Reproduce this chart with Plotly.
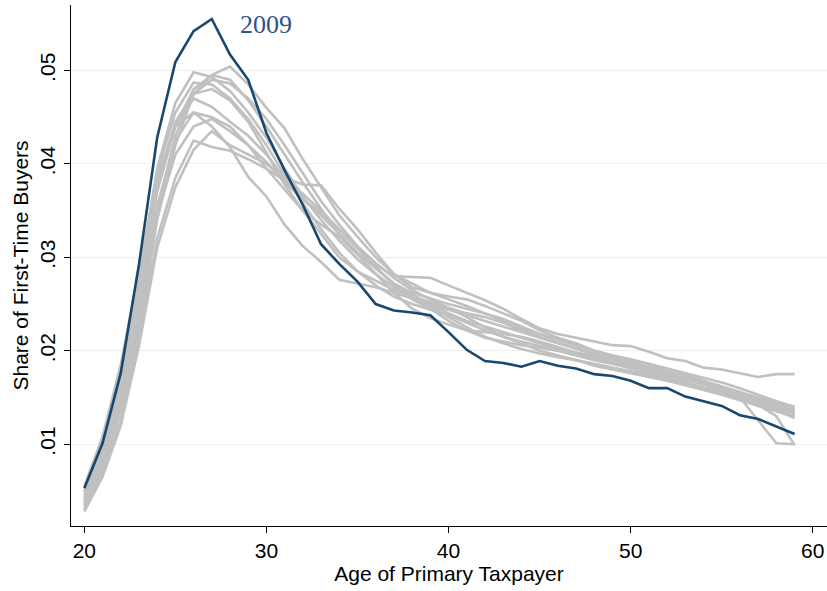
import plotly.graph_objects as go

ages = list(range(20, 60))

# Highlighted year
year_2009 = [0.0053, 0.0101, 0.0176, 0.0292, 0.0428, 0.0509, 0.0542, 0.0555, 0.0517, 0.0490,
             0.0433, 0.0393, 0.0356, 0.0314, 0.0293, 0.0274, 0.0250, 0.0243, 0.0241, 0.0238,
             0.0220, 0.0201, 0.0189, 0.0187, 0.0183, 0.0189, 0.0184, 0.0181, 0.0175, 0.0173,
             0.0168, 0.0160, 0.0160, 0.0151, 0.0146, 0.0141, 0.0131, 0.0127, 0.0119, 0.0111]

# Other years (grey)
other_a = [0.0035, 0.0075, 0.0135, 0.0220, 0.0340, 0.0420, 0.0475, 0.0495, 0.0504, 0.0485,
           0.0460, 0.0438, 0.0405, 0.0375, 0.0345, 0.0322, 0.0300, 0.0282, 0.0272, 0.0262,
           0.0255, 0.0248, 0.0240, 0.0232, 0.0224, 0.0218, 0.0212, 0.0206, 0.0200, 0.0195,
           0.0190, 0.0185, 0.0178, 0.0172, 0.0166, 0.0160, 0.0154, 0.0148, 0.0142, 0.0137]
other_b = [0.0030, 0.0068, 0.0125, 0.0215, 0.0320, 0.0385, 0.0425, 0.0418, 0.0414, 0.0405,
           0.0395, 0.0382, 0.0368, 0.0350, 0.0330, 0.0310, 0.0292, 0.0280, 0.0279, 0.0278,
           0.0270, 0.0262, 0.0254, 0.0245, 0.0234, 0.0224, 0.0218, 0.0214, 0.0210, 0.0206,
           0.0205, 0.0199, 0.0192, 0.0189, 0.0182, 0.0180, 0.0176, 0.0172, 0.0175, 0.0175]
other_c = [0.0028, 0.0065, 0.0120, 0.0205, 0.0310, 0.0375, 0.0415, 0.0435, 0.0420, 0.0410,
           0.0400, 0.0385, 0.0378, 0.0377, 0.0352, 0.0330, 0.0305, 0.0282, 0.0268, 0.0262,
           0.0258, 0.0255, 0.0248, 0.0240, 0.0232, 0.0222, 0.0214, 0.0208, 0.0200, 0.0194,
           0.0188, 0.0182, 0.0178, 0.0174, 0.0168, 0.0162, 0.0156, 0.0150, 0.0144, 0.0139]
other_d = [0.0045, 0.0095, 0.0170, 0.0275, 0.0395, 0.0465, 0.0498, 0.0493, 0.0478, 0.0455,
           0.0428, 0.0395, 0.0365, 0.0340, 0.0318, 0.0298, 0.0282, 0.0268, 0.0258, 0.0250,
           0.0240, 0.0232, 0.0226, 0.0220, 0.0214, 0.0208, 0.0202, 0.0196, 0.0192, 0.0188,
           0.0184, 0.0178, 0.0172, 0.0166, 0.0160, 0.0155, 0.0150, 0.0142, 0.0135, 0.0130]
other_e = [0.0038, 0.0082, 0.0150, 0.0250, 0.0370, 0.0440, 0.0480, 0.0495, 0.0490, 0.0468,
           0.0440, 0.0410, 0.0380, 0.0352, 0.0325, 0.0305, 0.0288, 0.0272, 0.0260, 0.0250,
           0.0244, 0.0238, 0.0232, 0.0226, 0.0220, 0.0214, 0.0208, 0.0202, 0.0196, 0.0190,
           0.0186, 0.0180, 0.0175, 0.0170, 0.0164, 0.0158, 0.0151, 0.0144, 0.0138, 0.0133]
other_f = [0.0050, 0.0100, 0.0175, 0.0280, 0.0390, 0.0455, 0.0487, 0.0485, 0.0470, 0.0448,
           0.0420, 0.0388, 0.0358, 0.0330, 0.0305, 0.0285, 0.0270, 0.0258, 0.0250, 0.0244,
           0.0238, 0.0230, 0.0222, 0.0215, 0.0210, 0.0205, 0.0200, 0.0195, 0.0190, 0.0186,
           0.0181, 0.0176, 0.0171, 0.0166, 0.0161, 0.0156, 0.0150, 0.0125, 0.0101, 0.0100]
other_g = [0.0055, 0.0108, 0.0185, 0.0285, 0.0385, 0.0440, 0.0455, 0.0440, 0.0418, 0.0386,
           0.0365, 0.0335, 0.0312, 0.0295, 0.0276, 0.0272, 0.0268, 0.0262, 0.0256, 0.0248,
           0.0236, 0.0225, 0.0215, 0.0208, 0.0202, 0.0197, 0.0193, 0.0190, 0.0186, 0.0182,
           0.0178, 0.0174, 0.0170, 0.0165, 0.0160, 0.0155, 0.0149, 0.0142, 0.0130, 0.0099]
other_h = [0.0042, 0.0090, 0.0160, 0.0265, 0.0375, 0.0440, 0.0470, 0.0461, 0.0445, 0.0430,
           0.0410, 0.0385, 0.0362, 0.0348, 0.0330, 0.0310, 0.0290, 0.0270, 0.0255, 0.0245,
           0.0232, 0.0222, 0.0214, 0.0210, 0.0206, 0.0203, 0.0200, 0.0198, 0.0194, 0.0190,
           0.0186, 0.0182, 0.0177, 0.0172, 0.0166, 0.0160, 0.0154, 0.0148, 0.0141, 0.0135]
other_i = [0.0040, 0.0085, 0.0150, 0.0250, 0.0355, 0.0425, 0.0455, 0.0450, 0.0440, 0.0420,
           0.0395, 0.0372, 0.0350, 0.0335, 0.0322, 0.0303, 0.0283, 0.0262, 0.0245, 0.0235,
           0.0228, 0.0222, 0.0220, 0.0218, 0.0215, 0.0210, 0.0204, 0.0198, 0.0192, 0.0188,
           0.0183, 0.0179, 0.0174, 0.0169, 0.0164, 0.0158, 0.0152, 0.0146, 0.0139, 0.0132]
other_j = [0.0033, 0.0072, 0.0135, 0.0230, 0.0350, 0.0430, 0.0475, 0.0490, 0.0486, 0.0470,
           0.0448, 0.0420, 0.0390, 0.0360, 0.0335, 0.0312, 0.0294, 0.0278, 0.0265, 0.0255,
           0.0246, 0.0240, 0.0236, 0.0230, 0.0222, 0.0215, 0.0209, 0.0203, 0.0197, 0.0192,
           0.0187, 0.0181, 0.0176, 0.0171, 0.0166, 0.0161, 0.0155, 0.0149, 0.0143, 0.0137]
other_k = [0.0048, 0.0098, 0.0170, 0.0270, 0.0378, 0.0445, 0.0475, 0.0480, 0.0468, 0.0445,
           0.0412, 0.0378, 0.0350, 0.0325, 0.0300, 0.0285, 0.0275, 0.0265, 0.0258, 0.0252,
           0.0246, 0.0236, 0.0225, 0.0215, 0.0208, 0.0200, 0.0195, 0.0190, 0.0184, 0.0180,
           0.0176, 0.0172, 0.0168, 0.0163, 0.0158, 0.0153, 0.0147, 0.0141, 0.0136, 0.0128]
other_l = [0.0036, 0.0078, 0.0142, 0.0240, 0.0345, 0.0410, 0.0440, 0.0448, 0.0435, 0.0420,
           0.0402, 0.0380, 0.0362, 0.0345, 0.0325, 0.0305, 0.0288, 0.0272, 0.0262, 0.0256,
           0.0250, 0.0245, 0.0240, 0.0234, 0.0226, 0.0218, 0.0212, 0.0206, 0.0200, 0.0195,
           0.0191, 0.0186, 0.0181, 0.0176, 0.0171, 0.0166, 0.0160, 0.0153, 0.0146, 0.0140]

other_years = [other_a, other_b, other_c, other_d, other_e, other_f,
               other_g, other_h, other_i, other_j, other_k, other_l]

y_tickvals = [0.01, 0.02, 0.03, 0.04, 0.05]
y_ticktext = [".01", ".02", ".03", ".04", ".05"]
x_tickvals = [20, 30, 40, 50, 60]

fig = go.Figure()
for s in other_years:
    fig.add_trace(go.Scatter(x=ages, y=s, mode="lines",
                             line=dict(color="#c0c0c0", width=2.6),
                             showlegend=False, hoverinfo="skip"))
fig.add_trace(go.Scatter(x=ages, y=year_2009, mode="lines",
                         line=dict(color="#1a476f", width=2.6),
                         showlegend=False, name="2009"))

fig.add_annotation(x=28.42, y=0.0549, text="2009", showarrow=False,
                   xanchor="left", yanchor="middle",
                   font=dict(family="Liberation Serif", size=26, color="#2d5487"))

font_main = dict(family="Liberation Sans, Arial, sans-serif", size=21, color="black")

fig.update_layout(
    width=827, height=591,
    margin=dict(l=71, r=0, t=5, b=65, autoexpand=False),
    paper_bgcolor="white", plot_bgcolor="white",
    font=font_main,
    xaxis=dict(range=[19.27, 60.78], tickvals=x_tickvals, ticks="outside",
               ticklen=6, tickwidth=1.2, tickcolor="black",
               showline=True, linecolor="black", linewidth=1.3,
               showgrid=False, zeroline=False, automargin=False,
               title=dict(text="Age of Primary Taxpayer", standoff=3,
                          font=dict(size=21)),
               tickfont=dict(size=21)),
    yaxis=dict(range=[0.00125, 0.057], tickvals=y_tickvals, ticktext=y_ticktext,
               ticks="outside", ticklen=6, tickwidth=1.2, tickcolor="black",
               tickangle=-90,
               showline=True, linecolor="black", linewidth=1.3,
               showgrid=True, gridcolor="#e8f0f3", gridwidth=1.2,
               zeroline=False, automargin=False,
               title=dict(text="Share of First-Time Buyers", standoff=2,
                          font=dict(size=21)),
               tickfont=dict(size=21)),
)

fig.write_html("out.html", config={"displayModeBar": False},
               post_script="document.body.style.margin='0px';document.body.style.overflow='hidden';")
